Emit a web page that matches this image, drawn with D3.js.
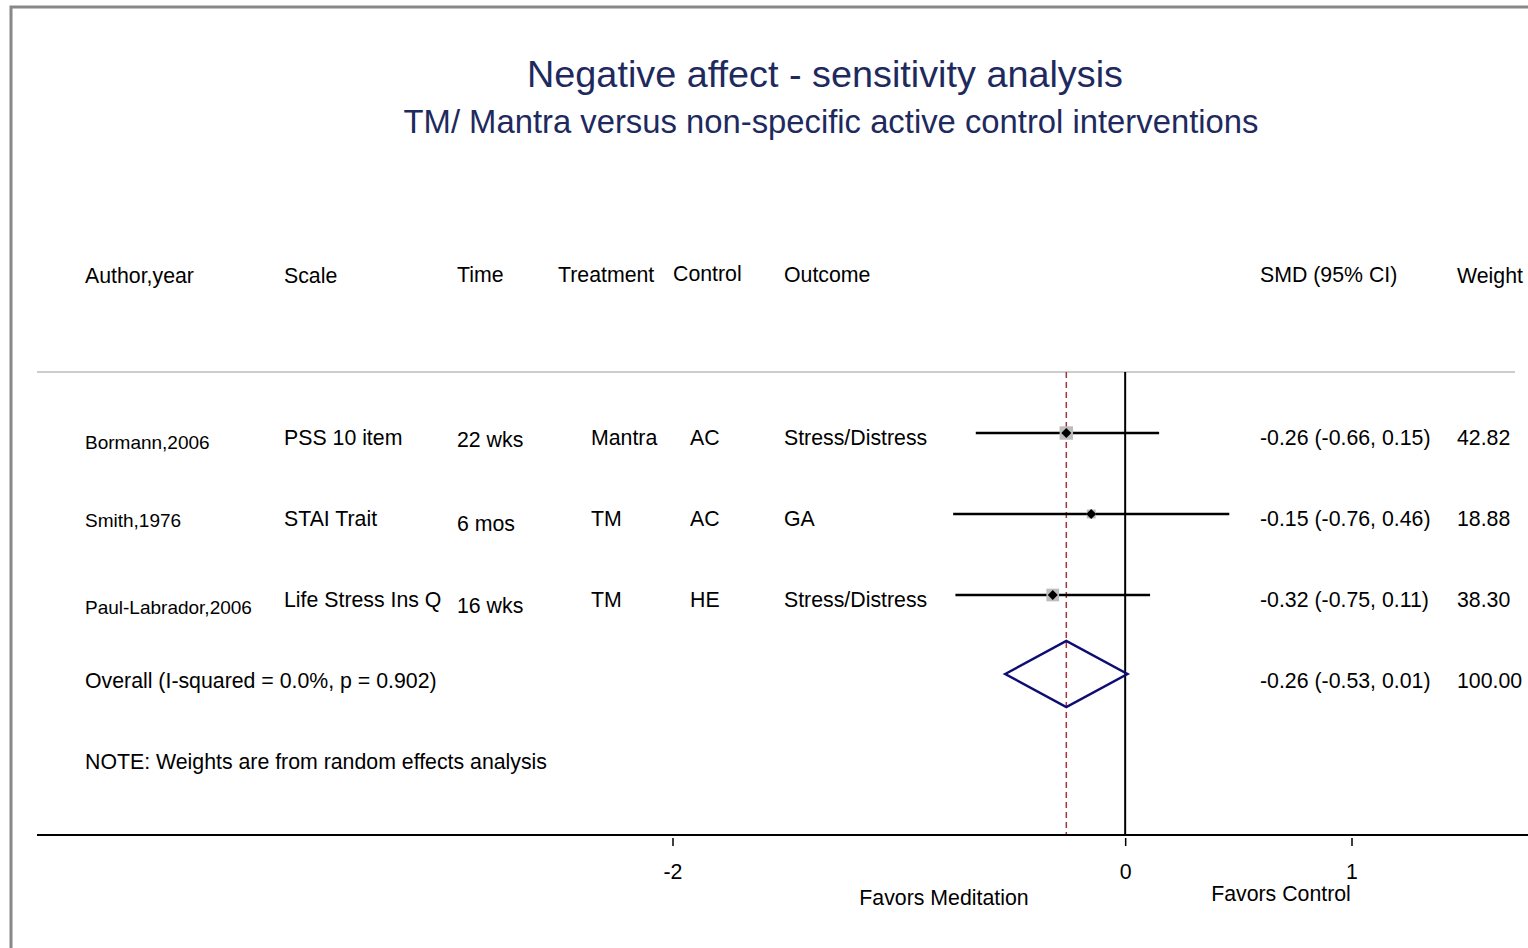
<!DOCTYPE html>
<html><head><meta charset="utf-8">
<script src="https://cdn.jsdelivr.net/npm/d3@7"></script>
<style>body{margin:0;background:#fff}svg{display:block;font-family:"Liberation Sans",Arial,sans-serif}</style>
</head><body><svg id="c" width="1528" height="948"></svg>
<script>
const authors = ["Bormann,2006", "Smith,1976", "Paul-Labrador,2006"];
const scales = ["PSS 10 item", "STAI Trait", "Life Stress Ins Q"];
const times = ["22 wks", "6 mos", "16 wks"];
const treatments = ["Mantra", "TM", "TM"];
const controls = ["AC", "AC", "HE"];
const outcomes = ["Stress/Distress", "GA", "Stress/Distress"];
const smd = [-0.26, -0.15, -0.32];
const lower = [-0.66, -0.76, -0.75];
const upper = [0.15, 0.46, 0.11];
const weights = [42.82, 18.88, 38.30];
const overall = {est: -0.26, lo: -0.53, hi: 0.01, weight: 100.00, label: "Overall (I-squared = 0.0%, p = 0.902)"};
const xTicks = [-2, 0, 1];
const headers = ["Author,year", "Scale", "Time", "Treatment", "Control", "Outcome", "SMD (95% CI)", "Weight"];

const FS = 21.3;
const svg = d3.select("#c");
const x = d3.scaleLinear().domain([-2, 1]).range([672.5, 1351.5]);
const y = d3.scaleLinear().domain([0, 4]).range([436, 760]);

// frame
svg.append("path").attr("d", "M11,948 V7 H1528").attr("fill", "none").attr("stroke", "#888").attr("stroke-width", 3);

// titles
svg.append("text").attr("x", 825).attr("y", 87).attr("text-anchor", "middle").attr("font-size", 37.8).attr("fill", "#1e2a5e").text("Negative affect - sensitivity analysis");
svg.append("text").attr("x", 831).attr("y", 133).attr("text-anchor", "middle").attr("font-size", 32.8).attr("fill", "#1e2a5e").text("TM/ Mantra versus non-specific active control interventions");

// headers
const hx = [85, 284, 457, 558, 673, 784, 1260, 1457];
const hy = [283, 283, 282, 282, 281, 282, 282, 283];
headers.forEach((h, i) => svg.append("text").attr("x", hx[i]).attr("y", hy[i]).attr("font-size", FS).attr("fill", "#000").text(h));

// separator
svg.append("line").attr("x1", 37).attr("x2", 1515).attr("y1", 372).attr("y2", 372).attr("stroke", "#bbb").attr("stroke-width", 1.5);

// reference lines
svg.append("line").attr("x1", x(0)).attr("x2", x(0)).attr("y1", 372).attr("y2", 835).attr("stroke", "#000").attr("stroke-width", 2);
svg.append("line").attr("x1", x(overall.est)).attr("x2", x(overall.est)).attr("y1", 372).attr("y2", 835)
  .attr("stroke", "#a8323e").attr("stroke-width", 1.5).attr("stroke-dasharray", "6,4");

// study rows
const rowY = i => y(i) - 3;
const textOff = {author: [4, 1, 7], time: [2, 5, 6]};
authors.forEach((a, i) => {
  const ty = y(i) + 9;
  svg.append("text").attr("x", 85).attr("y", ty + textOff.author[i]).attr("font-size", 19).text(a);
  svg.append("text").attr("x", 284).attr("y", ty).attr("font-size", FS).text(scales[i]);
  svg.append("text").attr("x", 457).attr("y", ty + textOff.time[i]).attr("font-size", FS).text(times[i]);
  svg.append("text").attr("x", 591).attr("y", ty).attr("font-size", FS).text(treatments[i]);
  svg.append("text").attr("x", 690).attr("y", ty).attr("font-size", FS).text(controls[i]);
  svg.append("text").attr("x", 784).attr("y", ty).attr("font-size", FS).text(outcomes[i]);
  svg.append("text").attr("x", 1260).attr("y", ty).attr("font-size", FS).text(`${smd[i].toFixed(2)} (${lower[i].toFixed(2)}, ${upper[i].toFixed(2)})`);
  svg.append("text").attr("x", 1457).attr("y", ty).attr("font-size", FS).text(weights[i].toFixed(2));
});

const wScale = d3.scaleSqrt().domain([0, 50]).range([0, 14.5]);
authors.forEach((a, i) => {
  const cy = rowY(i);
  svg.append("line").attr("x1", x(lower[i])).attr("x2", x(upper[i])).attr("y1", cy).attr("y2", cy).attr("stroke", "#000").attr("stroke-width", 2.5);
  const s = wScale(weights[i]);
  svg.append("rect").attr("x", x(smd[i]) - s / 2).attr("y", cy - s / 2).attr("width", s).attr("height", s).attr("fill", "#bdbdbd");
  const d = 5;
  svg.append("path").attr("d", `M${x(smd[i]) - d},${cy} L${x(smd[i])},${cy - d} L${x(smd[i]) + d},${cy} L${x(smd[i])},${cy + d} Z`).attr("fill", "#000");
});

// overall
const oy = y(3) - 5;
svg.append("path").attr("d", `M${x(overall.lo)},${oy} L${x(overall.est)},${oy - 33} L${x(overall.hi)},${oy} L${x(overall.est)},${oy + 33} Z`)
  .attr("fill", "none").attr("stroke", "#0d0d73").attr("stroke-width", 2.5);
svg.append("text").attr("x", 85).attr("y", y(3) + 9).attr("font-size", FS).text(overall.label);
svg.append("text").attr("x", 1260).attr("y", y(3) + 9).attr("font-size", FS).text(`${overall.est.toFixed(2)} (${overall.lo.toFixed(2)}, ${overall.hi.toFixed(2)})`);
svg.append("text").attr("x", 1457).attr("y", y(3) + 9).attr("font-size", FS).text(overall.weight.toFixed(2));

svg.append("text").attr("x", 85).attr("y", y(4) + 9).attr("font-size", FS).text("NOTE: Weights are from random effects analysis");

// axis
svg.append("line").attr("x1", 37).attr("x2", 1528).attr("y1", 835).attr("y2", 835).attr("stroke", "#000").attr("stroke-width", 2);
const ax = svg.append("g").attr("transform", "translate(0,838)")
  .call(d3.axisBottom(x).tickValues(xTicks).tickSize(8).tickPadding(18).tickFormat(d => String(d)));
ax.select(".domain").remove();
ax.selectAll("line").attr("stroke", "#000").attr("stroke-width", 1.5);
ax.selectAll("text").attr("font-size", FS).attr("font-family", "Liberation Sans, Arial, sans-serif").attr("fill", "#000");

svg.append("text").attr("x", 944).attr("y", 905).attr("text-anchor", "middle").attr("font-size", FS).text("Favors Meditation");
svg.append("text").attr("x", 1281).attr("y", 901).attr("text-anchor", "middle").attr("font-size", FS).text("Favors Control");
</script></body></html>
